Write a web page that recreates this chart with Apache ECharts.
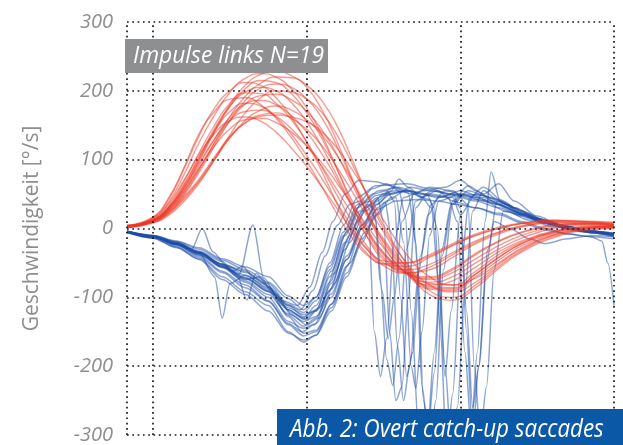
<!DOCTYPE html>
<html><head><meta charset="utf-8">
<script src="https://cdn.jsdelivr.net/npm/echarts@6/dist/echarts.min.js"></script>
<style>html,body{margin:0;padding:0;background:#fff}#c{width:623px;height:445px}</style>
</head><body><div id="c"></div>
<script>
// time axis (ms) sample points for the red traces
const redTimes = [-17,0,10,20,30,40,50,60,70,80,90,100,110,120,130,140,150,165,180,195,210,225,240,260,280,300];
const red01 = [4,13,30,60,100,142,180,208,224,228,222,205,172,125,70,18,-25,-65,-82,-76,-56,-34,-18,-4,3,4];
const red02 = [3,15,38,78,125,165,198,218,225,220,203,175,135,85,32,-15,-45,-64,-60,-42,-22,-8,2,8,8,6];
const red03 = [2,11,25,50,85,125,163,192,211,220,219,208,185,148,98,45,0,-50,-82,-92,-78,-52,-30,-10,0,3];
const red04 = [5,12,29,58,98,140,177,203,215,212,196,168,130,85,38,-3,-35,-63,-74,-64,-44,-25,-10,2,6,5];
const red05 = [3,16,42,86,135,175,200,212,208,190,162,125,82,35,-8,-38,-52,-55,-42,-25,-10,0,7,11,10,7];
const red06 = [2,10,24,48,82,120,157,186,204,210,205,188,160,118,68,22,-20,-62,-86,-88,-66,-42,-22,-6,2,3];
const red07 = [4,12,30,62,103,145,178,198,205,200,183,155,118,75,30,-8,-38,-64,-70,-58,-36,-18,-5,5,7,5];
const red08 = [1,8,19,39,66,100,136,168,190,200,198,188,168,135,92,45,5,-52,-90,-100,-82,-55,-32,-12,-2,1];
const red09 = [3,13,33,68,110,150,182,197,196,182,158,126,88,47,8,-28,-50,-60,-52,-35,-18,-5,4,10,9,6];
const red10 = [2,11,26,52,87,124,157,181,193,195,187,170,143,106,62,20,-15,-56,-80,-82,-62,-38,-20,-5,2,3];
const red11 = [4,17,44,88,138,170,188,190,180,160,132,98,60,20,-15,-40,-51,-50,-38,-22,-8,2,8,12,10,8];
const red12 = [3,11,27,55,92,130,162,181,186,180,164,140,108,70,30,-6,-36,-65,-78,-70,-50,-30,-14,0,5,4];
const red13 = [2,12,31,64,104,142,170,182,178,162,137,106,72,36,0,-32,-54,-65,-56,-38,-20,-6,3,9,8,6];
const red14 = [1,9,21,42,68,100,132,157,172,178,172,158,136,105,68,30,-5,-58,-96,-104,-86,-58,-34,-14,-3,0];
const red15 = [3,12,29,58,95,130,157,170,172,163,145,120,90,55,20,-14,-42,-66,-72,-60,-38,-19,-6,4,7,5];
const red16 = [2,9,22,44,70,102,132,154,165,168,160,144,120,88,52,15,-18,-60,-84,-86,-66,-42,-22,-6,1,3];
const red17 = [3,10,23,46,72,104,134,153,163,165,162,155,140,116,84,48,12,-38,-70,-82,-72,-50,-28,-10,-1,2];
const red18 = [4,14,36,70,108,138,157,162,156,140,117,90,60,28,-5,-32,-47,-50,-40,-24,-10,0,7,12,11,9];
const red19 = [2,11,27,54,88,120,145,158,160,154,140,120,95,65,33,2,-28,-66,-88,-90,-70,-46,-25,-8,0,2];

// blue traces: [time ms, velocity °/s]
const blue01 = [[-17,-4],[0,-10],[15,-18],[30,-28],[45,-44],[60,-56],[75,-70],[88,-98],[98,-112],[106,-100],[115,-50],[124,5],[133,45],[145,62],[165,65],[180,58],[195,48],[210,40],[225,30],[240,18],[255,8],[270,0],[285,-5],[300,-8]];
const blue02 = [[-17,-5],[0,-12],[15,-22],[30,-35],[45,-52],[60,-62],[72,-80],[84,-105],[94,-112],[102,-85],[110,-35],[117,10],[125,50],[134,70],[145,68],[155,62],[165,55],[175,50],[185,45],[195,50],[210,42],[225,35],[240,20],[255,10],[270,2],[285,-5],[300,-10]];
const blue03 = [[-17,-5],[0,-12],[15,-24],[30,-40],[45,-62],[60,-82],[75,-105],[88,-138],[97,-150],[105,-140],[115,-90],[125,-30],[133,10],[140,35],[144,28],[148,-80],[152,-190],[156,-228],[160,-160],[165,-30],[171,40],[182,55],[195,50],[210,45],[225,35],[240,22],[255,10],[270,2],[285,-5],[300,-9]];
const blue04 = [[-17,-6],[0,-14],[15,-28],[30,-44],[45,-70],[60,-92],[75,-112],[88,-150],[98,-165],[106,-155],[116,-110],[128,-50],[138,-5],[146,30],[151,38],[155,-10],[159,-170],[163,-250],[167,-200],[173,-60],[179,20],[186,45],[200,55],[215,45],[230,30],[245,15],[260,5],[280,-4],[300,-10]];
const blue05 = [[-17,-4],[0,-10],[15,-19],[30,-30],[45,-46],[60,-60],[75,-78],[88,-102],[98,-118],[106,-100],[115,-55],[124,-5],[133,35],[143,58],[152,65],[160,55],[164,20],[168,-120],[173,-300],[178,-310],[183,-180],[188,-30],[194,35],[202,50],[215,48],[228,36],[240,22],[255,10],[270,2],[285,-4],[300,-8]];
const blue06 = [[-17,-5],[0,-12],[15,-22],[25,-30],[32,0],[39,-34],[48,-55],[60,-68],[75,-86],[88,-112],[98,-128],[106,-118],[115,-78],[125,-20],[134,25],[145,48],[158,55],[170,50],[180,42],[185,0],[190,-200],[194,-310],[198,-260],[203,-90],[208,25],[215,55],[225,40],[240,22],[255,8],[270,0],[285,-6],[300,-10]];
const blue07 = [[-17,-5],[0,-12],[15,-24],[30,-38],[45,-55],[56,-66],[65,5],[72,-72],[80,-96],[90,-125],[100,-140],[108,-130],[118,-80],[128,-20],[138,25],[150,50],[165,55],[180,50],[195,45],[200,20],[204,-150],[208,-300],[212,-200],[218,-30],[224,40],[235,30],[250,15],[265,5],[280,-3],[300,-8]];
const blue08 = [[-17,-4],[0,-11],[15,-20],[30,-36],[40,-70],[45,-130],[50,-80],[60,-68],[75,-88],[88,-118],[98,-132],[106,-120],[115,-70],[125,-10],[135,35],[147,55],[160,60],[168,55],[172,-50],[176,-250],[180,-330],[184,-250],[189,-60],[195,35],[205,55],[220,45],[235,30],[250,15],[265,5],[280,-3],[300,-7]];
const blue09 = [[-17,-5],[0,-13],[15,-23],[30,-36],[45,-52],[55,-70],[61,-104],[67,-65],[75,-85],[88,-128],[98,-152],[106,-148],[116,-110],[126,-55],[136,0],[145,35],[155,50],[165,55],[175,45],[181,30],[186,-80],[190,-215],[194,-120],[200,20],[210,50],[225,42],[240,25],[255,12],[270,3],[285,-4],[300,-9]];
const blue10 = [[-17,-6],[0,-14],[15,-27],[30,-45],[45,-74],[60,-96],[75,-120],[88,-152],[98,-162],[106,-155],[116,-120],[126,-70],[136,-20],[145,20],[152,40],[158,45],[163,-20],[168,-200],[171,-232],[175,-150],[180,-10],[186,40],[200,50],[215,40],[230,25],[245,12],[260,3],[280,-5],[300,-11]];
const blue11 = [[-17,-4],[0,-11],[15,-21],[30,-34],[45,-56],[60,-76],[75,-96],[88,-124],[98,-135],[106,-128],[116,-95],[126,-45],[136,0],[146,28],[158,40],[172,42],[185,40],[198,35],[210,30],[225,20],[240,8],[255,-2],[270,-8],[285,-12],[292,-18],[296,-50],[300,-112]];
const blue12 = [[-17,-5],[0,-12],[15,-23],[30,-37],[45,-56],[60,-74],[70,-70],[78,-95],[90,-122],[100,-132],[108,-115],[118,-65],[128,-10],[138,30],[150,48],[165,55],[180,48],[192,45],[198,10],[203,-180],[207,-290],[211,-180],[216,10],[220,82],[226,40],[240,25],[255,12],[270,3],[285,-4],[300,-9]];
const blue13 = [[-17,-5],[0,-12],[15,-22],[30,-35],[45,-54],[60,-72],[75,-92],[88,-126],[98,-142],[106,-130],[116,-80],[126,-20],[136,25],[146,45],[150,10],[154,-150],[158,-250],[162,-230],[166,-100],[171,30],[178,50],[183,30],[187,-150],[191,-320],[195,-240],[200,-60],[206,45],[215,60],[230,35],[245,18],[260,6],[280,-3],[300,-8]];
const blue14 = [[-17,-4],[0,-11],[15,-21],[30,-35],[45,-52],[60,-64],[75,-80],[88,-110],[96,-118],[104,-90],[112,-40],[120,5],[128,35],[135,40],[140,20],[144,-150],[148,-215],[152,-160],[157,-20],[163,45],[175,55],[190,60],[200,70],[210,55],[225,35],[240,20],[255,8],[270,0],[285,-6],[300,-12]];
const blue15 = [[-17,-5],[0,-12],[15,-23],[30,-38],[45,-57],[60,-78],[75,-100],[88,-135],[98,-145],[106,-138],[116,-100],[126,-45],[136,5],[146,40],[156,60],[166,52],[171,-20],[175,-230],[179,-290],[183,-210],[188,-40],[195,40],[205,62],[215,50],[225,65],[235,40],[250,18],[265,5],[280,-3],[300,-7]];
const blue16 = [[-17,-4],[0,-11],[15,-20],[30,-33],[45,-48],[52,-62],[58,-55],[66,-72],[75,-84],[88,-112],[98,-122],[106,-105],[115,-60],[124,-10],[133,30],[143,50],[152,55],[157,40],[161,-100],[165,-215],[169,-180],[174,-40],[181,35],[190,55],[205,48],[220,40],[235,25],[250,12],[265,3],[280,-4],[300,-9]];
const blue17 = [[-17,-5],[0,-13],[15,-26],[30,-42],[45,-64],[60,-86],[75,-106],[88,-140],[98,-156],[106,-150],[116,-115],[126,-65],[136,-15],[146,20],[155,45],[168,60],[180,55],[195,50],[200,30],[204,-120],[208,-260],[212,-200],[217,-50],[222,10],[232,0],[245,-15],[255,-22],[270,-15],[285,-10],[300,-12]];
const blue18 = [[-17,-5],[0,-12],[15,-22],[30,-36],[45,-55],[60,-73],[75,-91],[88,-118],[98,-130],[106,-112],[116,-62],[126,-5],[135,35],[141,40],[145,10],[149,-90],[153,-160],[157,-100],[162,10],[170,50],[180,60],[195,55],[205,35],[209,-200],[213,-300],[217,-230],[222,-60],[228,25],[240,20],[255,8],[270,0],[285,-6],[300,-10]];
const blue19 = [[-17,-4],[0,-11],[15,-21],[30,-34],[45,-53],[60,-71],[75,-90],[88,-115],[98,-125],[106,-120],[116,-88],[126,-40],[136,5],[146,35],[155,55],[160,72],[166,60],[175,45],[185,55],[195,40],[210,30],[225,22],[240,10],[255,0],[270,-8],[285,-12],[300,-15]];

const yTicks = [-300,-200,-100,0,100,200,300];
const xGridLines = [-17,0,100,200,300];
const xMin = -17, xMax = 300;
const titleTop = 'Impulse links N=19';
const titleBottom = 'Abb. 2: Overt catch-up saccades';
const yName = 'Geschwindigkeit [°/s]';

const redTraces = [red01,red02,red03,red04,red05,red06,red07,red08,red09,red10,red11,red12,red13,red14,red15,red16,red17,red18,red19];
const blueTraces = [blue01,blue02,blue03,blue04,blue05,blue06,blue07,blue08,blue09,blue10,blue11,blue12,blue13,blue14,blue15,blue16,blue17,blue18,blue19];

const series = [];
blueTraces.forEach(tr => series.push({
  type:'line', data: tr, showSymbol:false, smooth:0.3, smoothMonotone:'x', silent:true, z:2,
  lineStyle:{color:'rgba(30,78,168,0.5)', width:1.5}
}));
redTraces.forEach(tr => series.push({
  type:'line', data: redTimes.map((t,i)=>[t,tr[i]]), showSymbol:false, smooth:0.5, silent:true, z:3,
  lineStyle:{color:'rgba(238,55,38,0.5)', width:1.4}
}));
const dotted = {color:'#1a1a1a', width:1.7, type:[1.7,3.6], cap:'butt'};
series.push({
  type:'line', data:[[xMin,0]], showSymbol:false, lineStyle:{opacity:0}, silent:true, z:5,
  markLine:{
    silent:true, symbol:['none','none'], label:{show:false}, animation:false,
    lineStyle:dotted, emphasis:{disabled:true},
    data: xGridLines.map(x=>({xAxis:x})).concat(yTicks.map(y=>({yAxis:y})))
  }
});

const chart = echarts.init(document.getElementById('c'), null, {renderer:'canvas'});
chart.setOption({
  animation:false,
  backgroundColor:'#fff',
  grid:{left:127, right:9, top:22, bottom:10},
  xAxis:{type:'value', min:xMin, max:xMax, show:false},
  yAxis:{type:'value', min:-300, max:300, interval:100,
    axisLine:{show:false}, axisTick:{show:false}, splitLine:{show:false},
    axisLabel:{color:'#8e8e8e', fontFamily:'Open Sans', fontStyle:'italic', fontSize:20, margin:14},
    name:yName, nameLocation:'middle', nameGap:84,
    nameTextStyle:{color:'#8e8e8e', fontFamily:'Open Sans', fontSize:21}
  },
  series: series,
  graphic:[
    {type:'rect', z:100, shape:{x:125,y:39,width:203,height:34}, style:{fill:'#8e8f91'}},
    {type:'text', z:101, x:133, y:56, scaleX:0.95, style:{text:titleTop, fill:'#fff', font:'italic 24px "Open Sans"', align:'left', verticalAlign:'middle'}},
    {type:'rect', z:100, shape:{x:277,y:409,width:346,height:36}, style:{fill:'#0a58a6'}},
    {type:'text', z:101, x:290, y:430, scaleX:0.86, style:{text:titleBottom, fill:'#fff', font:'italic 26px "Open Sans"', align:'left', verticalAlign:'middle'}}
  ]
});
</script></body></html>
